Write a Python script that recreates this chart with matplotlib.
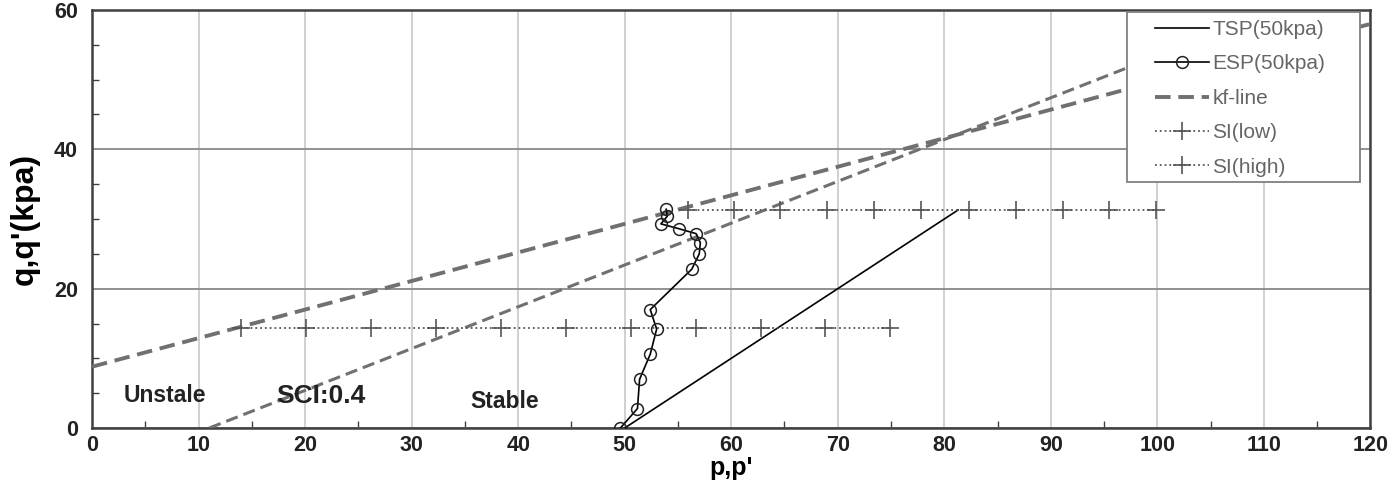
import matplotlib

matplotlib.use('Agg')
import matplotlib.pyplot as plt
from matplotlib.patches import Rectangle
from matplotlib.ticker import MultipleLocator

# total stress path (50 kPa)
tsp_p = [50.0, 81.3]
tsp_q = [0.0, 31.3]

# effective stress path (50 kPa)
esp_p = [49.6, 51.2, 51.4, 52.4, 53.0, 52.4, 56.3, 57.0, 57.1, 56.7,
         55.1, 53.4, 54.0, 53.9]
esp_q = [0.0, 2.8, 7.0, 10.6, 14.2, 17.0, 22.8, 25.0, 26.6, 27.9,
         28.6, 29.3, 30.4, 31.4]

# kf-line and SCI 0.4 line
kf_p = [0.0, 120.0]
kf_q = [8.8, 58.0]
sci_p = [11.0, 97.0]
sci_q = [0.0, 51.6]

# instability lines
si_low_p = [14.0, 20.1, 26.2, 32.3, 38.4, 44.5, 50.6, 56.7, 62.8, 68.8, 74.9]
si_low_q = [14.3] * len(si_low_p)
si_high_p = [55.9, 60.3, 64.6, 69.0, 73.4, 77.8, 82.3, 86.7, 91.1, 95.5, 99.9]
si_high_q = [31.3] * len(si_high_p)

plt.rcParams['font.family'] = ['Liberation Sans', 'DejaVu Sans']

fig = plt.figure(figsize=(13.92, 4.87), dpi=100)
ax = fig.add_axes([0.0661, 0.1211, 0.9184, 0.8584])

ax.plot(tsp_p, tsp_q, color='black', linewidth=1.2, label='TSP(50kpa)',
        zorder=4)
ax.plot(esp_p, esp_q, color='black', linewidth=1.2, marker='o',
        markersize=8.5, markerfacecolor='none', markeredgecolor='#222222',
        markeredgewidth=1.1, label='ESP(50kpa)', zorder=5)
ax.plot(kf_p, kf_q, color='#707070', linewidth=2.8, dashes=(4, 2),
        label='kf-line', zorder=3)
ax.plot(sci_p, sci_q, color='#707070', linewidth=2.2, dashes=(4, 2),
        zorder=3)
ax.plot(si_low_p, si_low_q, color='#555555', linewidth=1.3, linestyle=':',
        marker='+', markersize=13, markeredgewidth=1.2, label='SI(low)',
        zorder=4)
ax.plot(si_high_p, si_high_q, color='#555555', linewidth=1.3, linestyle=':',
        marker='+', markersize=13, markeredgewidth=1.2, label='SI(high)',
        zorder=4)

ax.set_xlim(0, 120)
ax.set_ylim(0, 60)
ax.xaxis.set_major_locator(MultipleLocator(10))
ax.xaxis.set_minor_locator(MultipleLocator(5))
ax.yaxis.set_major_locator(MultipleLocator(20))
ax.yaxis.set_minor_locator(MultipleLocator(5))

ax.grid(True, axis='x', color='#c4c4c4', linewidth=1.1, zorder=0)
ax.grid(True, axis='y', color='#909090', linewidth=1.4, zorder=0)
ax.set_axisbelow(True)

for spine in ax.spines.values():
    spine.set_color('#404040')
    spine.set_linewidth(1.8)

ax.tick_params(which='both', direction='in', colors='#404040')
ax.tick_params(which='major', length=0)
ax.tick_params(which='minor', length=5, width=1)
ax.tick_params(axis='x', which='major', pad=5)
ax.tick_params(axis='y', which='major', pad=10)
for label in ax.get_xticklabels() + ax.get_yticklabels():
    label.set_fontsize(15.5)
    label.set_fontweight('bold')
    label.set_color('#222222')

ax.set_xlabel("p,p'", fontsize=18, fontweight='bold', labelpad=0)
ax.set_ylabel("q,q'(kpa)", fontsize=23, fontweight='bold', labelpad=10)

ax.text(3.0, 4.6, 'Unstale', fontsize=16.5, fontweight='bold',
        color='#222222', va='center')
ax.text(17.3, 4.6, 'SCI:0.4', fontsize=19, fontweight='bold',
        color='#222222', va='center')
ax.text(35.5, 3.8, 'Stable', fontsize=16.5, fontweight='bold',
        color='#222222', va='center')

# legend box is wider than the entries, so draw the frame by hand
box = Rectangle((0.8096, 0.5885), 0.1823, 0.4067, transform=ax.transAxes,
                facecolor='white', edgecolor='#808080', linewidth=1.3,
                zorder=6, clip_on=False)
ax.add_patch(box)
legend = ax.legend(loc='upper left', bbox_to_anchor=(0.8315, 0.976),
                   borderaxespad=0, borderpad=0, frameon=False,
                   fontsize=15, handlelength=2.6, handletextpad=0.15,
                   labelspacing=0.74)
legend.set_zorder(7)
for text in legend.get_texts():
    text.set_color('#666666')

fig.savefig('out.png', dpi=100)
